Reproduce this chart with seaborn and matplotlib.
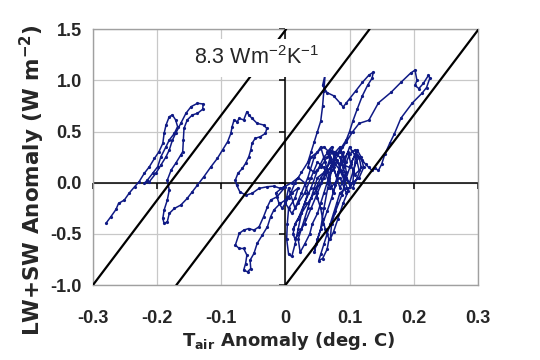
import pandas as pd
import matplotlib
matplotlib.use("Agg")
import matplotlib.pyplot as plt
import seaborn as sns

# trajectory: (T_air anomaly [deg C], LW+SW anomaly [W m-2])
left_loop = [
    (-0.279, -0.391), (-0.272, -0.332), (-0.264, -0.261), (-0.260, -0.202), (-0.251, -0.169),
    (-0.243, -0.098), (-0.235, -0.039), (-0.228, 0.010), (-0.220, 0.091), (-0.212, 0.156),
    (-0.204, 0.238), (-0.197, 0.303), (-0.191, 0.385), (-0.189, 0.482), (-0.186, 0.564),
    (-0.181, 0.645), (-0.176, 0.662), (-0.171, 0.613), (-0.168, 0.548), (-0.173, 0.482),
    (-0.181, 0.417), (-0.186, 0.352), (-0.194, 0.254), (-0.199, 0.156), (-0.207, 0.091),
    (-0.215, 0.026), (-0.220, -0.007), (-0.212, 0.010), (-0.202, 0.091), (-0.194, 0.173),
    (-0.186, 0.254), (-0.181, 0.319), (-0.176, 0.417), (-0.171, 0.482), (-0.163, 0.580),
    (-0.155, 0.678), (-0.147, 0.743), (-0.137, 0.776), (-0.128, 0.769), (-0.129, 0.717),
    (-0.137, 0.678), (-0.145, 0.662), (-0.153, 0.613), (-0.158, 0.531), (-0.159, 0.417),
    (-0.160, 0.303), (-0.163, 0.271), (-0.171, 0.189), (-0.178, 0.124), (-0.184, 0.026),
    (-0.181, -0.072), (-0.184, -0.169), (-0.189, -0.267), (-0.191, -0.349), (-0.189, -0.398),
    (-0.184, -0.381), (-0.181, -0.300),
]
middle_path = [
    (-0.173, -0.251), (-0.163, -0.218), (-0.153, -0.153), (-0.145, -0.088), (-0.137, -0.023),
    (-0.127, 0.059), (-0.116, 0.156), (-0.106, 0.238), (-0.098, 0.319), (-0.090, 0.401),
    (-0.085, 0.482), (-0.083, 0.548), (-0.080, 0.613), (-0.075, 0.596), (-0.072, 0.629),
    (-0.065, 0.613), (-0.060, 0.694), (-0.057, 0.662), (-0.052, 0.629), (-0.044, 0.580),
    (-0.034, 0.564), (-0.029, 0.531), (-0.031, 0.482), (-0.039, 0.450), (-0.047, 0.434),
    (-0.052, 0.385), (-0.054, 0.319), (-0.057, 0.254), (-0.062, 0.189), (-0.067, 0.140),
    (-0.074, 0.091), (-0.078, 0.026), (-0.076, -0.023), (-0.071, -0.088), (-0.062, -0.121),
    (-0.052, -0.104), (-0.041, -0.055), (-0.028, -0.039), (-0.018, -0.033), (-0.008, -0.055),
    (0.000, -0.039),
]
lower_path = [
    (-0.013, -0.137), (-0.023, -0.169), (-0.028, -0.235), (-0.034, -0.332), (-0.041, -0.430),
    (-0.049, -0.463), (-0.057, -0.447), (-0.065, -0.463), (-0.072, -0.495), (-0.078, -0.609),
    (-0.072, -0.642), (-0.065, -0.642), (-0.060, -0.707), (-0.062, -0.789), (-0.065, -0.854),
    (-0.059, -0.870), (-0.054, -0.838), (-0.055, -0.756), (-0.049, -0.691), (-0.044, -0.593),
    (-0.036, -0.512), (-0.028, -0.430), (-0.023, -0.332), (-0.018, -0.267), (-0.008, -0.202),
    (0.000, -0.169),
]
right_cluster = [
    (0.010, -0.10), (0.020, -0.05), (0.015, -0.15), (0.005, -0.25), (0.003, -0.40),
    (0.002, -0.55), (0.005, -0.70), (0.010, -0.72), (0.015, -0.60), (0.020, -0.45),
    (0.025, -0.30), (0.030, -0.20), (0.035, -0.10), (0.030, 0.00), (0.020, 0.05),
    (0.010, 0.00), (-0.005, -0.05), (-0.015, -0.10), (-0.010, -0.20), (-0.005, -0.25),
    (0.005, -0.15), (0.015, 0.00), (0.025, 0.10), (0.035, 0.20), (0.040, 0.30),
    (0.045, 0.40), (0.050, 0.50), (0.055, 0.60), (0.058, 0.75), (0.060, 0.90),
    (0.062, 1.06), (0.058, 0.95), (0.065, 0.88), (0.075, 0.85), (0.085, 0.78),
    (0.090, 0.74), (0.095, 0.78), (0.100, 0.82), (0.110, 0.90), (0.120, 0.98),
    (0.130, 1.05), (0.137, 1.08), (0.135, 1.02), (0.128, 0.95), (0.120, 0.85),
    (0.112, 0.72), (0.105, 0.60), (0.100, 0.50), (0.095, 0.42), (0.088, 0.35),
    (0.080, 0.28), (0.070, 0.20), (0.060, 0.10), (0.050, 0.05), (0.045, -0.05),
    (0.040, -0.15), (0.035, -0.25), (0.030, -0.35), (0.025, -0.45), (0.020, -0.55),
    (0.023, -0.68), (0.030, -0.60), (0.038, -0.50), (0.042, -0.40), (0.050, -0.30),
    (0.055, -0.20), (0.060, -0.10), (0.065, 0.00), (0.070, 0.10), (0.072, 0.20),
    (0.068, 0.30), (0.060, 0.35), (0.050, 0.30), (0.040, 0.25), (0.035, 0.15),
    (0.045, 0.10), (0.055, 0.15), (0.065, 0.25), (0.075, 0.30), (0.085, 0.25),
    (0.090, 0.15), (0.095, 0.05), (0.100, 0.00), (0.105, 0.10), (0.110, 0.20),
    (0.115, 0.25), (0.118, 0.15), (0.112, 0.05), (0.105, -0.05), (0.095, -0.05),
    (0.085, -0.10), (0.080, -0.20), (0.075, -0.30), (0.070, -0.40), (0.065, -0.50),
    (0.060, -0.60), (0.055, -0.70), (0.052, -0.76), (0.058, -0.74), (0.065, -0.65),
    (0.068, -0.55), (0.062, -0.45), (0.058, -0.35), (0.055, -0.25), (0.050, -0.15),
    (0.048, -0.05), (0.055, 0.05), (0.065, 0.12), (0.078, 0.18), (0.088, 0.10),
    (0.095, 0.20), (0.100, 0.28), (0.108, 0.32), (0.112, 0.27), (0.120, 0.22),
    (0.125, 0.18), (0.130, 0.15), (0.135, 0.12), (0.140, 0.14), (0.145, 0.12),
    (0.150, 0.18), (0.155, 0.28), (0.163, 0.39), (0.170, 0.48), (0.180, 0.63),
    (0.198, 0.78), (0.213, 0.875), (0.220, 0.93), (0.225, 1.02), (0.223, 1.05),
    (0.215, 0.97), (0.208, 0.92), (0.202, 0.95), (0.205, 1.00), (0.202, 1.10),
    (0.195, 1.07), (0.180, 0.98), (0.165, 0.885), (0.145, 0.78), (0.130, 0.61),
    (0.115, 0.58), (0.105, 0.50), (0.095, 0.40), (0.085, 0.30), (0.075, 0.20),
    (0.065, 0.10), (0.055, 0.00), (0.045, -0.10), (0.035, -0.20), (0.025, -0.30),
    (0.015, -0.40), (0.012, -0.50), (0.015, -0.55),
]
core_tangle = [
    (0.020, -0.50), (0.030, -0.40), (0.040, -0.25), (0.050, -0.10), (0.060, 0.05),
    (0.070, 0.25), (0.080, 0.05), (0.090, 0.30), (0.095, 0.10), (0.085, -0.05),
    (0.075, 0.15), (0.065, 0.30), (0.072, 0.35), (0.080, 0.20), (0.100, 0.15),
    (0.110, 0.30), (0.105, 0.00), (0.095, -0.10), (0.085, 0.05), (0.070, -0.05),
    (0.060, 0.15), (0.050, 0.20), (0.040, 0.05), (0.030, -0.10), (0.020, -0.20),
    (0.010, -0.30), (0.000, -0.20), (0.005, -0.05),
]
core_strands = [
    (0.015, -0.25), (0.025, -0.10), (0.035, 0.05), (0.045, 0.25), (0.055, 0.35),
    (0.062, 0.20), (0.068, 0.05), (0.075, -0.10), (0.082, 0.10), (0.090, 0.22),
    (0.098, 0.30), (0.102, 0.18), (0.108, 0.08), (0.115, 0.12), (0.110, 0.25),
    (0.100, 0.35), (0.092, 0.20), (0.085, 0.35), (0.078, 0.30), (0.072, 0.12),
    (0.066, -0.05), (0.060, -0.25), (0.055, -0.45), (0.048, -0.60), (0.045, -0.68),
    (0.050, -0.55), (0.058, -0.40), (0.065, -0.28), (0.072, -0.15), (0.078, -0.02),
    (0.085, 0.12), (0.092, 0.02), (0.098, -0.08), (0.090, -0.20), (0.082, -0.35),
    (0.075, -0.48), (0.070, -0.55), (0.072, -0.40), (0.078, -0.28), (0.088, -0.12),
    (0.095, 0.05), (0.103, 0.20), (0.112, 0.32), (0.118, 0.25), (0.122, 0.15),
    (0.115, 0.05), (0.100, -0.02), (0.090, 0.08), (0.080, 0.22), (0.070, 0.32),
    (0.060, 0.25), (0.050, 0.12), (0.040, -0.05), (0.030, -0.20), (0.020, -0.35),
    (0.012, -0.45),
]

# reference lines of constant slope (W m-2 K-1), each starting at y = -1
slope = 8.3
line_x0 = [-0.30, -0.17, 0.00]

xticks = [-0.3, -0.2, -0.1, 0.0, 0.1, 0.2, 0.3]
xtick_labels = ['-0.3', '-0.2', '-0.1', '0', '0.1', '0.2', '0.3']
yticks = [-1.0, -0.5, 0.0, 0.5, 1.0, 1.5]
ytick_labels = ['-1.0', '-0.5', '0.0', '0.5', '1.0', '1.5']

sns.set_style("white")
plt.rcParams['font.family'] = ['Liberation Sans', 'DejaVu Sans']

pts = left_loop + middle_path + lower_path + right_cluster + core_tangle + core_strands
df = pd.DataFrame(pts, columns=['tair', 'flux'])

fig = plt.figure(figsize=(5.4, 3.6), dpi=100)
ax = fig.add_axes([0.172, 0.208, 0.713, 0.711])

sns.lineplot(data=df, x='tair', y='flux', sort=False, estimator=None,
             color='#0f1a85', lw=1.1, marker='o', markersize=2.3,
             markeredgewidth=0, ax=ax, zorder=3)

for x0 in line_x0:
    xs = [x0, x0 + 2.5 / slope]
    ys = [-1.0, -1.0 + slope * (xs[1] - x0)]
    sns.lineplot(x=xs, y=ys, color='black', lw=1.6, ax=ax, zorder=4)

ax.set_xlim(-0.3, 0.3)
ax.set_ylim(-1.0, 1.5)
ax.set_xticks(xticks)
ax.set_xticklabels(xtick_labels)
ax.set_yticks(yticks)
ax.set_yticklabels(ytick_labels)
ax.tick_params(axis='x', length=0, pad=18, labelsize=13)
ax.tick_params(axis='y', length=0, pad=8, labelsize=13)
for lab in ax.get_xticklabels() + ax.get_yticklabels():
    lab.set_fontweight('bold')

ax.grid(True, color='#c8c8c8', lw=0.9)
ax.set_axisbelow(True)
for s in ax.spines.values():
    s.set_color('#a0a0a0')
    s.set_linewidth(1.0)

# zero axes with Excel style tick marks
ax.axhline(0, color='black', lw=1.1, zorder=2)
ax.axvline(0, color='black', lw=1.1, zorder=2)
ax.plot([0] * len(yticks), yticks, ls='none', marker=0, ms=4, mew=1.1,
        color='black', clip_on=False, zorder=2)
ax.plot(xticks, [0] * len(xticks), ls='none', marker=3, ms=4, mew=1.1,
        color='black', clip_on=False, zorder=2)

ax.text(-0.045, 1.22, r'8.3 Wm$^{\mathregular{-2}}$K$^{\mathregular{-1}}$',
        fontsize=15.5, ha='center', va='center', zorder=6,
        bbox=dict(boxstyle='square,pad=0.35', facecolor='white', edgecolor='none'))

lab_font = ['DejaVu Sans']
ax.set_xlabel(r'T$_{\mathregular{air}}$ Anomaly (deg. C)', fontsize=13,
              fontweight='bold', family=lab_font)
ax.set_ylabel(r'LW+SW Anomaly (W m$^{\mathregular{-2}}$)', fontsize=15.5,
              fontweight='bold', family=lab_font)
ax.xaxis.set_label_coords(0.51, -0.176)
ax.yaxis.set_label_coords(-0.12, 0.41)

fig.savefig("out.png", dpi=100)
